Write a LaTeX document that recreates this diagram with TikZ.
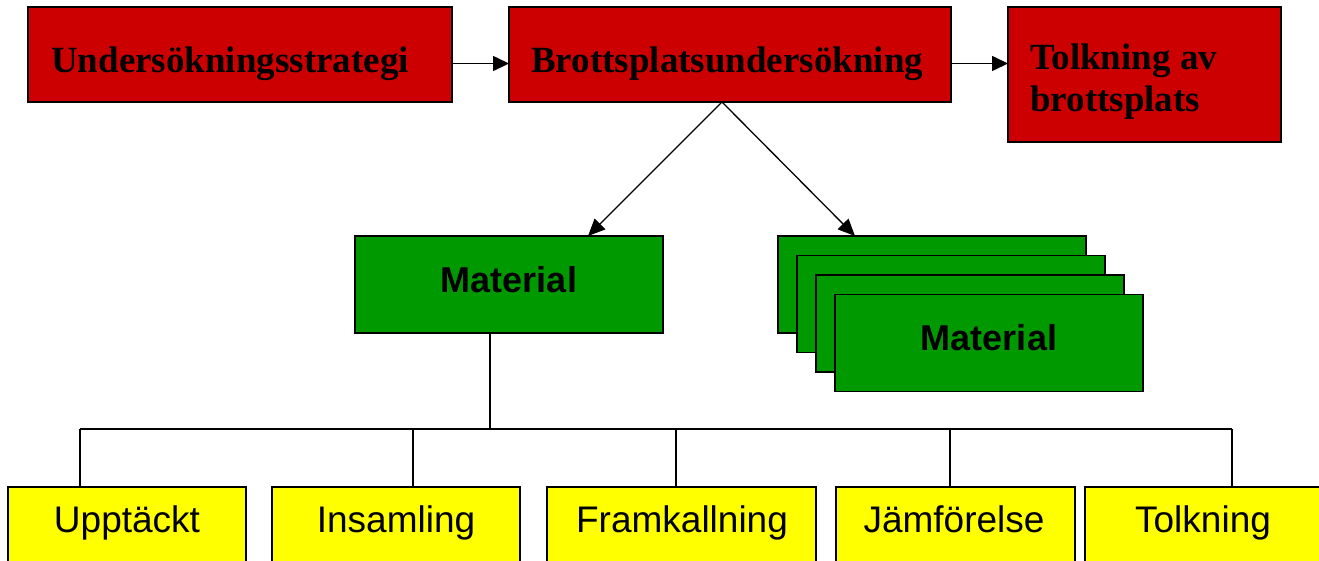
\documentclass[tikz,border=0pt]{standalone}
\usepackage{fontspec}
\setmainfont{Liberation Serif}
\newfontfamily\arialf{Liberation Sans}
\usetikzlibrary{arrows.meta}
\definecolor{boxred}{RGB}{204,0,0}
\definecolor{boxgreen}{RGB}{0,153,0}
\definecolor{boxyellow}{RGB}{255,255,0}
\begin{document}
\begin{tikzpicture}[x=1pt,y=-1pt,
  box/.style={draw=black, line width=1.6pt, inner sep=0pt, outer sep=0pt, anchor=north west},
  redbox/.style={box, fill=boxred},
  greenbox/.style={box, fill=boxgreen, minimum width=308pt, minimum height=97pt},
  yellowbox/.style={box, fill=boxyellow, line width=1.4pt, minimum height=110pt},
  toptext/.style={inner sep=0pt, anchor=base west, font=\fontsize{37}{42}\selectfont\bfseries},
  mattext/.style={inner sep=0pt, anchor=base, font=\arialf\fontsize{36}{42}\selectfont\bfseries},
  bottext/.style={inner sep=0pt, anchor=base, font=\arialf\fontsize{37}{42}\selectfont},
  arr/.style={line width=1.6pt, -{Triangle[length=16pt,width=15pt]}},
  darr/.style={line width=1.3pt, -{Triangle[length=17pt,width=15pt]}},
  tree/.style={line width=1.1pt}]
\useasboundingbox (0,0) rectangle (1319,560);
\clip (0,0) rectangle (1319,560);
\fill[white] (0,0) rectangle (1319,560);
% top row
\node[redbox, minimum width=424pt, minimum height=95pt] (b1) at (28,7) {};
\node[redbox, minimum width=442pt, minimum height=95pt] (b2) at (509,7) {};
\node[redbox, minimum width=273pt, minimum height=135pt] (b3) at (1008,7) {};
\node[toptext] (t1) at (51,72) {Undersökningsstrategi};
\node[toptext] (t2) at (531,72) {Brottsplatsundersökning};
\node[toptext] (t3a) at (1030,69) {Tolkning av};
\node[toptext] (t3b) at (1030,111) {brottsplats};
\draw[arr] ([yshift=-9pt]b1.east) -- ([yshift=-9pt]b2.west);
\draw[arr] ([yshift=-9pt]b2.east) -- ([yshift=-9pt]b2.east -| b3.west);
% green boxes
\node[greenbox] (m1) at (355,236) {};
\node[mattext] (mt1) at (509,292) {Material};
\node[greenbox] (s1) at (778,236) {};
\node[greenbox] (s2) at (797,255.5) {};
\node[greenbox] (s3) at (816,275) {};
\node[greenbox] (s4) at (835,294.5) {};
\node[mattext] (mt2) at (989,350) {Material};
\coordinate (apex) at ([xshift=-8pt]b2.south);
\draw[darr] (apex) -- ([xshift=79pt]m1.north);
\draw[darr] (apex) -- ([xshift=-77pt]s1.north);
% yellow boxes
\node[yellowbox, minimum width=238pt] (y1) at (8,487) {};
\node[yellowbox, minimum width=248pt] (y2) at (272,487) {};
\node[yellowbox, minimum width=269pt] (y3) at (547,487) {};
\node[yellowbox, minimum width=239pt] (y4) at (836,487) {};
\node[yellowbox, minimum width=260pt] (y5) at (1085,487) {};
\node[bottext] (u1) at (127,532) {Upptäckt};
\node[bottext] (u2) at (396,532) {Insamling};
\node[bottext] (u3) at (682,532) {Framkallning};
\node[bottext] (u4) at (954,532) {Jämförelse};
\node[bottext] (u5) at (1203,532) {Tolkning};
% tree
\coordinate (j) at (490,429);
\coordinate (jl) at (80,429);
\coordinate (j2) at (413,429);
\coordinate (j3) at (676,429);
\coordinate (j4) at (950,429);
\coordinate (jr) at (1232,429);
\draw[tree] (j |- m1.south) -- (j);
\draw[tree] (jl) -- (jr);
\draw[tree] (jl) -- (jl |- y1.north);
\draw[tree] (j2) -- (j2 |- y2.north);
\draw[tree] (j3) -- (j3 |- y3.north);
\draw[tree] (j4) -- (j4 |- y4.north);
\draw[tree] (jr) -- (jr |- y5.north);
\end{tikzpicture}
\end{document}
